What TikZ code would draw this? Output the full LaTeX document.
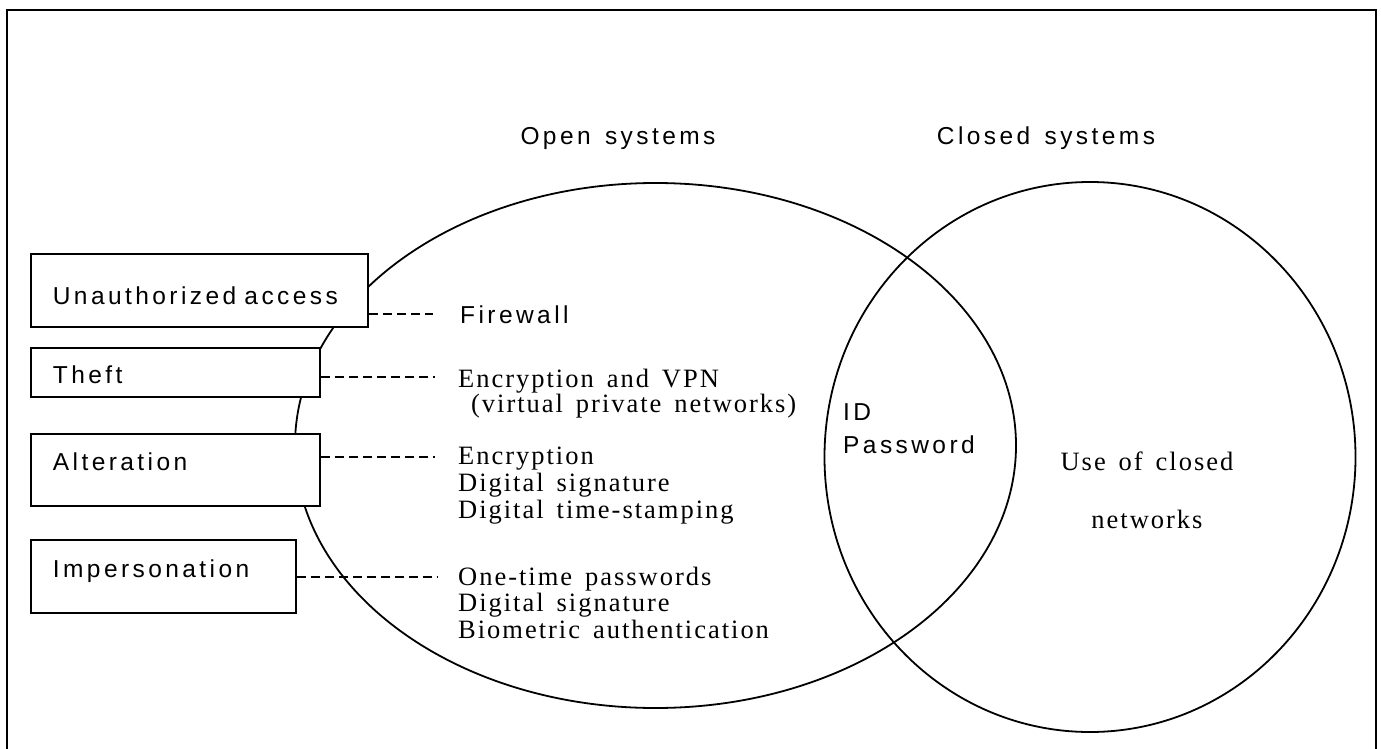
\documentclass[tikz,border=0pt]{standalone}
\usepackage{fontspec}
\usetikzlibrary{positioning}

\newfontfamily\labelsans[LetterSpace=14,WordSpace=1.4]{Liberation Sans}
\newfontfamily\labelserif[LetterSpace=7.5,WordSpace=1.5]{Liberation Serif}
\newcommand{\sansface}{\labelsans\fontsize{24.5}{33}\selectfont}
\newcommand{\serifface}{\labelserif\fontsize{26.5}{26.5}\selectfont}

\begin{document}
\begin{tikzpicture}[x=1pt,y=-1pt,
    box/.style={draw,fill=white,line width=1.8pt,anchor=north west,align=left,
                inner xsep=22pt,inner ysep=0pt,font=\sansface},
    remedy/.style={anchor=base west,inner sep=0pt,align=left,font=\serifface},
    link/.style={line width=1.5pt,dash pattern=on 9pt off 5pt}]
    \useasboundingbox (0,0) rectangle (1381,749);
    \draw[line width=2pt] (7,760) -- (7,10) -- (1376,10) -- (1376,760);

    % the two systems
    \draw[line width=1.8pt] (655.5,445.5) ellipse [x radius=360.5, y radius=262.5];
    \draw[line width=1.8pt] (1090,457) ellipse [x radius=265.5, y radius=275];
    \node[font=\sansface,anchor=base] (open)   at (618,145)  {Open systems};
    \node[font=\sansface,anchor=base] (closed) at (1046,145) {Closed systems};

    % threats
    \node[box,minimum width=337pt,minimum height=73pt,text width=293pt,
          text height=29pt,text depth=0pt] (unauth) at (30,253) {Unauthorized access};
    \node[box,minimum width=289pt,minimum height=49pt,text width=245pt,
          text height=23pt,text depth=0pt] (theft)  at (30,347) {Theft};
    \node[box,minimum width=289pt,minimum height=72pt,text width=245pt,
          text height=18pt,text depth=16pt] (alter) at (30,433) {Alteration};
    \node[box,minimum width=265pt,minimum height=73pt,text width=221pt,
          text height=18pt,text depth=15pt] (imper) at (30,539) {Impersonation};

    % countermeasures (base = last line)
    \node[remedy,font=\sansface] (fw) at (460,323) {Firewall};
    \node[remedy,font=\labelserif\fontsize{26.5}{25}\selectfont] (vpn) at (458,412)
          {Encryption and VPN\\\ (virtual private networks)};
    \node[remedy,font=\labelserif\fontsize{26.5}{27}\selectfont] (sign) at (458,518)
          {Encryption\\Digital signature\\Digital time-stamping};
    \node[remedy] (otp) at (458,638) {One-time passwords\\Digital signature\\Biometric authentication};
    \node[font=\sansface,anchor=base west,inner sep=0pt,align=left] (idpw) at (843,453) {ID\\Password};
    \node[font=\labelserif\fontsize{26.5}{58}\selectfont,anchor=base,inner sep=0pt,align=center]
          (closednet) at (1147,528) {Use of closed\\networks};

    \coordinate (fwtip)   at (433,314);
    \coordinate (vpntip)  at (435,377);
    \coordinate (signtip) at (435,457);
    \coordinate (otptip)  at (437,577);
    \draw[link] (unauth.east |- fwtip) -- (fwtip);
    \draw[link] (theft.east |- vpntip) -- (vpntip);
    \draw[link] (alter.east |- signtip) -- (signtip);
    \draw[link] (imper.east |- otptip) -- (otptip);
\end{tikzpicture}
\end{document}
